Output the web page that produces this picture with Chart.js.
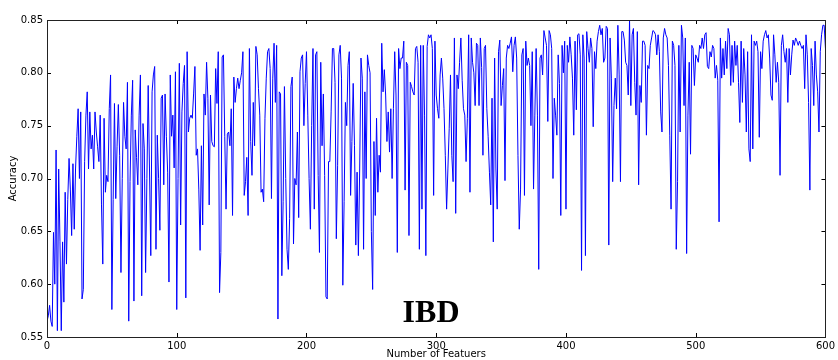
<!DOCTYPE html>
<html>
<head>
<meta charset="utf-8">
<script src="https://cdn.jsdelivr.net/npm/chart.js@4"></script>
<style>
html,body{margin:0;padding:0;background:#fff;}
#wrap{width:838px;height:360px;position:relative;}
</style>
</head>
<body>
<div id="wrap"><canvas id="c" width="838" height="360"></canvas></div>
<script>
// Number of features (x) and accuracy (y)
const featureStart = 0;
const featureEnd = 600;
const xTickLabels = [0, 100, 200, 300, 400, 500, 600];
const yTickLabels = [0.55, 0.60, 0.65, 0.70, 0.75, 0.80, 0.85];
const accuracy = [
0.565,0.570,0.580,0.565,0.560,0.649,0.600,0.727,0.556,0.709,
0.640,0.556,0.640,0.583,0.687,0.619,0.680,0.719,0.690,0.646,
0.714,0.652,0.709,0.740,0.766,0.700,0.763,0.586,0.595,0.716,
0.760,0.782,0.709,0.763,0.728,0.741,0.709,0.763,0.744,0.730,
0.716,0.760,0.675,0.619,0.757,0.687,0.703,0.697,0.766,0.798,
0.576,0.680,0.771,0.681,0.730,0.770,0.722,0.611,0.700,0.772,
0.740,0.728,0.791,0.565,0.697,0.760,0.793,0.584,0.746,0.720,
0.694,0.760,0.798,0.589,0.752,0.728,0.611,0.700,0.788,0.709,
0.627,0.782,0.798,0.806,0.633,0.741,0.700,0.651,0.776,0.779,
0.694,0.780,0.740,0.706,0.602,0.798,0.740,0.760,0.710,0.801,
0.576,0.700,0.809,0.656,0.763,0.790,0.807,0.587,0.820,0.744,
0.757,0.760,0.757,0.780,0.806,0.722,0.728,0.690,0.632,0.731,
0.656,0.780,0.760,0.810,0.776,0.675,0.779,0.735,0.731,0.730,
0.804,0.771,0.820,0.592,0.630,0.815,0.817,0.740,0.671,0.742,
0.744,0.731,0.766,0.665,0.796,0.772,0.785,0.795,0.785,0.793,
0.800,0.820,0.684,0.697,0.720,0.665,0.823,0.735,0.703,0.772,
0.731,0.825,0.817,0.785,0.760,0.687,0.690,0.678,0.757,0.795,
0.820,0.823,0.804,0.681,0.795,0.828,0.772,0.826,0.567,0.782,
0.780,0.608,0.678,0.787,0.700,0.633,0.614,0.662,0.787,0.796,
0.638,0.700,0.694,0.744,0.663,0.801,0.814,0.817,0.750,0.790,
0.820,0.760,0.700,0.652,0.750,0.823,0.671,0.817,0.820,0.703,
0.630,0.810,0.731,0.780,0.703,0.588,0.586,0.716,0.716,0.763,
0.823,0.823,0.791,0.643,0.712,0.817,0.826,0.795,0.599,0.678,
0.772,0.750,0.807,0.820,0.684,0.735,0.790,0.731,0.637,0.706,
0.627,0.709,0.814,0.795,0.633,0.782,0.700,0.817,0.807,0.800,
0.650,0.595,0.735,0.665,0.757,0.687,0.722,0.706,0.828,0.782,
0.803,0.779,0.735,0.763,0.725,0.766,0.700,0.766,0.820,0.779,
0.630,0.823,0.804,0.814,0.814,0.830,0.689,0.810,0.807,0.646,
0.791,0.787,0.782,0.779,0.823,0.825,0.810,0.633,0.826,0.671,
0.826,0.760,0.627,0.825,0.836,0.833,0.836,0.823,0.684,0.830,
0.779,0.766,0.757,0.798,0.814,0.795,0.766,0.722,0.671,0.709,
0.747,0.798,0.722,0.697,0.833,0.667,0.798,0.785,0.810,0.833,
0.793,0.766,0.760,0.716,0.757,0.836,0.687,0.833,0.810,0.800,
0.769,0.828,0.826,0.769,0.833,0.805,0.722,0.823,0.826,0.766,
0.740,0.706,0.675,0.776,0.640,0.814,0.709,0.671,0.820,0.831,
0.769,0.788,0.804,0.698,0.814,0.826,0.823,0.828,0.834,0.801,
0.826,0.834,0.814,0.722,0.652,0.690,0.817,0.823,0.684,0.830,
0.807,0.814,0.807,0.750,0.820,0.690,0.760,0.823,0.760,0.614,
0.814,0.817,0.798,0.840,0.833,0.826,0.754,0.840,0.836,0.823,
0.700,0.776,0.760,0.741,0.817,0.790,0.665,0.826,0.800,0.830,
0.671,0.826,0.810,0.834,0.817,0.795,0.741,0.830,0.765,0.836,
0.837,0.817,0.613,0.836,0.814,0.627,0.839,0.823,0.810,0.833,
0.823,0.749,0.820,0.804,0.830,0.839,0.845,0.836,0.842,0.810,
0.814,0.844,0.842,0.637,0.833,0.795,0.697,0.769,0.795,0.766,
0.845,0.798,0.697,0.839,0.839,0.831,0.810,0.807,0.779,0.850,
0.769,0.836,0.842,0.791,0.760,0.839,0.694,0.788,0.772,0.830,
0.830,0.826,0.741,0.807,0.804,0.826,0.833,0.840,0.839,0.836,
0.817,0.836,0.820,0.763,0.744,0.833,0.842,0.836,0.833,0.807,
0.741,0.671,0.830,0.826,0.807,0.633,0.697,0.826,0.744,0.845,
0.833,0.769,0.833,0.629,0.760,0.810,0.723,0.826,0.823,0.788,
0.817,0.814,0.810,0.826,0.823,0.833,0.823,0.836,0.838,0.806,
0.804,0.820,0.815,0.826,0.823,0.795,0.807,0.793,0.659,0.833,
0.795,0.823,0.798,0.830,0.804,0.842,0.836,0.788,0.826,0.791,
0.830,0.807,0.826,0.791,0.753,0.830,0.772,0.823,0.798,0.744,
0.820,0.728,0.716,0.836,0.728,0.830,0.826,0.830,0.820,0.739,
0.820,0.804,0.830,0.836,0.840,0.833,0.836,0.814,0.779,0.774,
0.836,0.817,0.791,0.810,0.791,0.703,0.826,0.836,0.820,0.810,
0.823,0.772,0.823,0.798,0.817,0.831,0.826,0.833,0.830,0.826,
0.830,0.826,0.823,0.826,0.785,0.836,0.817,0.772,0.689,0.823,
0.807,0.769,0.830,0.798,0.782,0.744,0.820,0.836,0.845,0.845,
0.823
];
const xTitle = "Number of Featuers";
const yTitle = "Accuracy";
const caption = "IBD";

const points = accuracy.map((v, i) => ({ x: featureStart + i, y: v }));

const frameAndTicks = {
  id: 'frameAndTicks',
  afterDraw(chart) {
    const { ctx, chartArea: a, scales } = chart;
    ctx.save();
    ctx.strokeStyle = '#000';
    ctx.lineWidth = 1;
    // inner tick marks on all four sides
    ctx.beginPath();
    xTickLabels.forEach(v => {
      const px = Math.round(scales.x.getPixelForValue(v)) + 0.5;
      ctx.moveTo(px, a.bottom); ctx.lineTo(px, a.bottom - 4);
      ctx.moveTo(px, a.top); ctx.lineTo(px, a.top + 4);
    });
    yTickLabels.forEach(v => {
      const py = Math.round(scales.y.getPixelForValue(v)) + 0.5;
      ctx.moveTo(a.left, py); ctx.lineTo(a.left + 4, py);
      ctx.moveTo(a.right, py); ctx.lineTo(a.right - 4, py);
    });
    ctx.stroke();
    ctx.strokeStyle = '#222';
    ctx.strokeRect(Math.round(a.left) + 0.5, Math.round(a.top) + 0.5,
                   Math.round(a.right - a.left), Math.round(a.bottom - a.top));
    // caption
    ctx.fillStyle = '#000';
    ctx.font = 'bold 32px "Liberation Serif", "Times New Roman", serif';
    ctx.textAlign = 'center';
    ctx.textBaseline = 'alphabetic';
    ctx.fillText(caption, scales.x.getPixelForValue(296), 322);
    ctx.restore();
  }
};

new Chart(document.getElementById('c'), {
  type: 'line',
  data: {
    datasets: [{
      data: points,
      borderColor: '#0000ff',
      borderWidth: 1,
      pointRadius: 0,
      fill: false,
      tension: 0
    }]
  },
  options: {
    responsive: false,
    animation: false,
    devicePixelRatio: 1,
    layout: { padding: { left: 7, top: 20, right: 9, bottom: 0 } },
    plugins: { legend: { display: false }, tooltip: { enabled: false } },
    scales: {
      x: {
        type: 'linear',
        min: featureStart,
        max: featureEnd,
        afterBuildTicks: s => { s.ticks = xTickLabels.map(v => ({ value: v })); },
        afterFit: s => { s.height = 23; },
        grid: { display: false, drawTicks: false },
        border: { display: false },
        ticks: { color: '#000', padding: 3, maxRotation: 0, autoSkip: false,
                 font: { family: '"DejaVu Sans", sans-serif', size: 10 } },
        title: { display: true, text: xTitle, color: '#000', padding: { top: 0, bottom: 0 },
                 font: { family: '"DejaVu Sans", sans-serif', size: 10 } }
      },
      y: {
        min: 0.55,
        max: 0.85,
        afterBuildTicks: s => { s.ticks = yTickLabels.map(v => ({ value: v })); },
        afterFit: s => { s.width = 40; },
        grid: { display: false, drawTicks: false },
        border: { display: false },
        ticks: { color: '#000', padding: 4, autoSkip: false,
                 callback: v => Number(v).toFixed(2),
                 font: { family: '"DejaVu Sans", sans-serif', size: 10 } },
        title: { display: true, text: yTitle, color: '#000', padding: { top: 0, bottom: 0 },
                 font: { family: '"DejaVu Sans", sans-serif', size: 10 } }
      }
    }
  },
  plugins: [frameAndTicks]
});
</script>
</body>
</html>
